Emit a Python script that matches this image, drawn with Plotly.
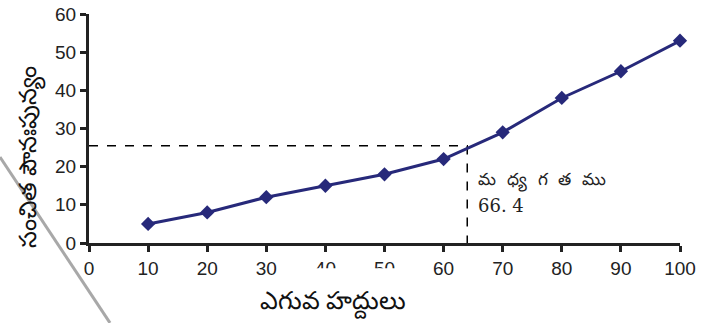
import plotly.graph_objects as go

upper_limits = [10, 20, 30, 40, 50, 60, 70, 80, 90, 100]
cum_freq = [5, 8, 12, 15, 18, 22, 29, 38, 45, 53]
x_ticks = [0, 10, 20, 30, 40, 50, 60, 70, 80, 90, 100]
y_ticks = [0, 10, 20, 30, 40, 50, 60]
median_x = 64
median_y = 25.5
median_label = "మ\u00a0 ధ్య\u00a0 గ\u00a0 త\u00a0 ము"
median_value_label = "66. 4"
x_title = "ఎగువ హద్దులు"
y_title = "సంచిత పౌనఃపున్యం"

fig = go.Figure()

# median guide lines
fig.add_trace(go.Scatter(x=[0, median_x, median_x], y=[median_y, median_y, 0],
                         mode="lines", line=dict(color="black", width=1.5, dash="dash"),
                         hoverinfo="skip", showlegend=False, cliponaxis=False))

fig.add_trace(go.Scatter(x=upper_limits, y=cum_freq, mode="lines+markers",
                         line=dict(color="#27297a", width=3),
                         marker=dict(symbol="diamond", size=11, color="#27297a"),
                         showlegend=False, cliponaxis=False))

axis_common = dict(showgrid=False, zeroline=False, showline=True, linecolor="#222",
                   linewidth=3, ticks="outside", tickcolor="#222", tickwidth=3,
                   ticklen=6, automargin=False,
                   tickfont=dict(family="Liberation Sans, Arial", size=19, color="#222"))

fig.update_xaxes(range=[0, 100], tickvals=x_ticks, **axis_common)
fig.update_yaxes(range=[0, 60], tickvals=y_ticks, **axis_common)

fig.update_layout(
    width=702, height=323,
    margin=dict(l=89, r=22, t=14, b=80),
    paper_bgcolor="white", plot_bgcolor="white",
    shapes=[
        # white box partly hiding tick labels
        dict(type="rect", xref="paper", yref="paper", x0=0.37, x1=0.53, y0=-0.25, y1=-0.11,
             fillcolor="white", line=dict(width=0), layer="above"),
        # gray diagonal stroke across the left edge
        dict(type="line", xref="paper", yref="paper", x0=-0.1506, y0=0.3755, x1=0.0355, y1=-0.349,
             line=dict(color="#a8a8a8", width=3), layer="above"),
    ],
    annotations=[
        dict(text=x_title, xref="paper", yref="paper", x=0.413, y=-0.249,
             showarrow=False, font=dict(size=25, color="#111"), xanchor="center", yanchor="middle"),
        dict(text=y_title, xref="paper", yref="paper", x=-0.103, y=0.375, textangle=-90,
             showarrow=False, font=dict(size=24, color="#111"), xanchor="center", yanchor="middle"),
        dict(text=median_label, x=65.5, y=16.5, xref="x", yref="y", showarrow=False,
             xanchor="left", yanchor="middle", font=dict(family="DejaVu Serif", size=17, color="#222")),
        dict(text=median_value_label, x=65.5, y=9.9, xref="x", yref="y", showarrow=False,
             xanchor="left", yanchor="middle", font=dict(family="DejaVu Serif", size=18, color="#222")),
    ],
)

fig.write_html("out.html")
